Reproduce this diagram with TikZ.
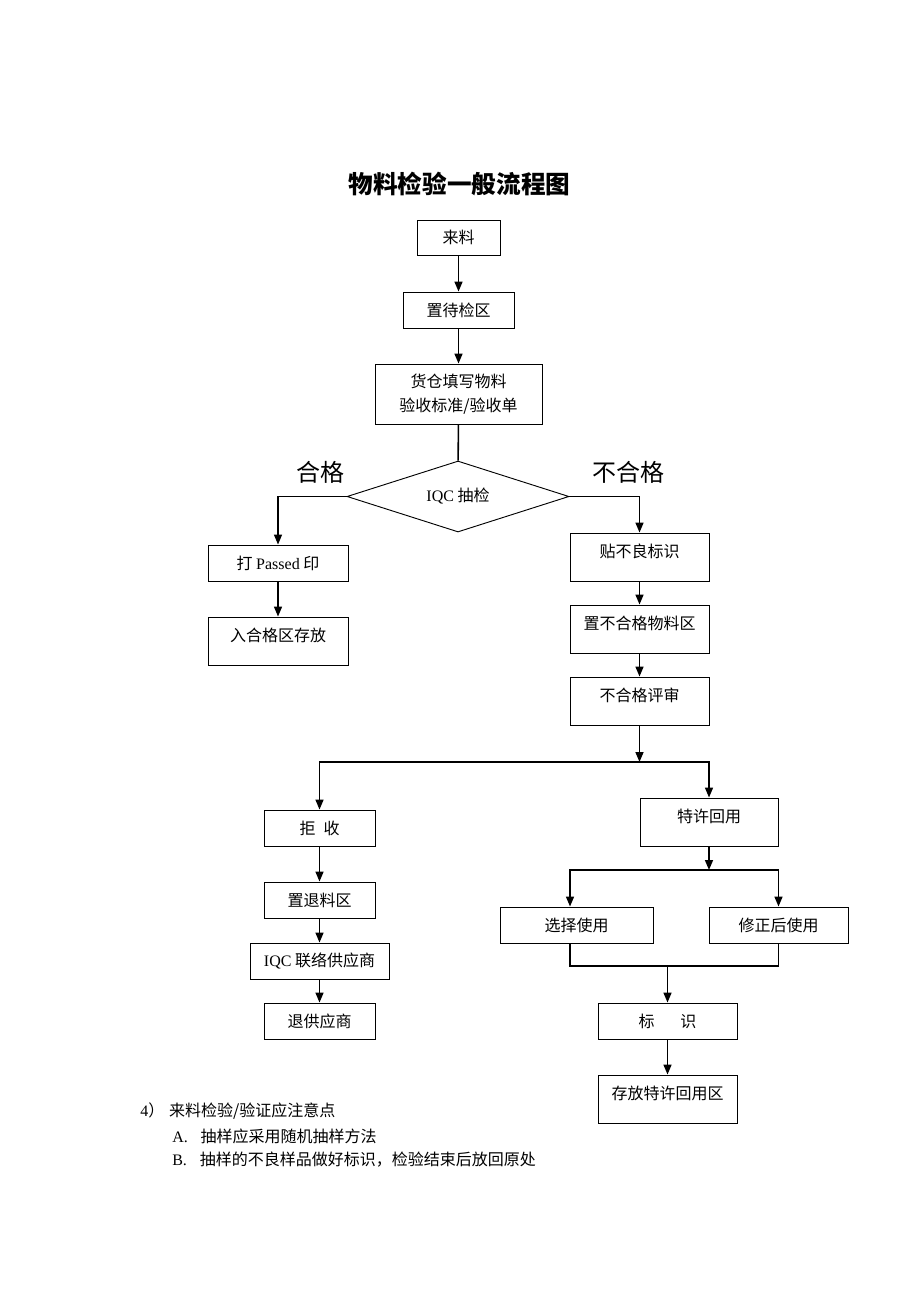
\documentclass[tikz,border=0pt]{standalone}
\usepackage{fontspec}
\setmainfont{Noto Sans CJK SC}
\newfontfamily\latinfont{Liberation Serif}
\newcommand{\eng}[1]{{\latinfont #1}}
\newcommand{\unitpx}{0.65pt}
\usetikzlibrary{shapes.geometric,arrows.meta,calc}

\tikzset{
  box/.style={draw, line width=0.6pt, inner sep=0pt, align=center, font=\fontsize{10.4}{16}\selectfont},
  bw/.style={minimum width=#1*\unitpx},
  bh/.style={minimum height=#1*\unitpx},
  toptext/.style={text height=8pt, text depth=8pt},
  decision/.style={diamond, draw, line width=0.6pt, aspect=3, inner sep=0pt,
    minimum width=222*\unitpx, minimum height=71*\unitpx, font=\fontsize{10.4}{16}\selectfont},
  branch/.style={inner sep=0pt, font=\fontsize{15.6}{18}\selectfont},
  note/.style={anchor=west, inner sep=0pt, font=\fontsize{10.4}{14}\selectfont},
  link/.style={line width=1pt},
  arr/.style={link, -{Triangle[length=6.5pt, width=5.2pt]}},
}

\begin{document}
\begin{tikzpicture}[x=\unitpx, y=-\unitpx]
    \path[fill=white, use as bounding box] (0,0) rectangle (920,1302);

    % Title
    \node[font=\bfseries\fontsize{16}{18}\selectfont] (title) at (459.5,184) {物料检验一般流程图};

    % Incoming
    \node[box, bw=83, bh=35] (lailiao) at (458.5,237.5) {来料};
    \node[box, bw=111, bh=36] (daijian) at (458.5,310) {置待检区};
    \node[box, bw=167, bh=60] (huocang) at (458.5,394) {货仓填写物料\\验收标准/验收单};
    \node[decision] (iqc) at (458,496.5) {\eng{IQC} 抽检};
    \node[branch] (hege) at (320,472) {合格};
    \node[branch] (buhege) at (628,472) {不合格};
    \draw[arr] (lailiao) -- (daijian);
    \draw[arr] (daijian) -- (huocang);
    \draw[link] (huocang) -- (iqc);

    % Passed
    \node[box, bw=140, bh=36] (passed) at (278,563) {打 \eng{Passed} 印};
    \node[box, bw=140, bh=48, toptext] (store) at (278,641) {入合格区存放};
    \draw[arr] (iqc.west) -| (passed.north);
    \draw[arr] (passed) -- (store);

    % Failed
    \node[box, bw=139, bh=48, toptext] (tag) at (639.5,557) {贴不良标识};
    \node[box, bw=139, bh=48, toptext] (ngarea) at (639.5,629) {置不合格物料区};
    \node[box, bw=139, bh=48, toptext] (review) at (639.5,701) {不合格评审};
    \draw[arr] (iqc.east) -| (tag.north);
    \draw[arr] (tag) -- (ngarea);
    \draw[arr] (ngarea) -- (review);

    % Review result
    \coordinate (fork) at (639.5,762);
    \node[box, bw=111, bh=36] (reject) at (319.5,828) {拒\hspace{0.5em}收};
    \node[box, bw=138, bh=48, toptext] (concession) at (709,822) {特许回用};
    \draw[arr] (review) -- (fork);
    \draw[arr] (fork) -| (reject.north);
    \draw[arr] (fork) -| (concession.north);

    % Reject
    \node[box, bw=111, bh=36] (retarea) at (319.5,900) {置退料区};
    \node[box, bw=139, bh=36] (contact) at (319.5,961) {\eng{IQC} 联络供应商};
    \node[box, bw=111, bh=36] (retsupp) at (319.5,1021) {退供应商};
    \draw[arr] (reject) -- (retarea);
    \draw[arr] (retarea) -- (contact);
    \draw[arr] (contact) -- (retsupp);

    % Concession
    \coordinate (fork2) at (709,870);
    \node[box, bw=153, bh=36] (select) at (576.5,925) {选择使用};
    \node[box, bw=139, bh=36] (rework) at (778.5,925) {修正后使用};
    \draw[arr] (concession) -- (fork2);
    \draw[arr] (fork2) -| ($(select.north)+(-6.5,0)$);
    \draw[arr] (fork2) -| (rework.north);

    \coordinate (merge) at (667.5,966);
    \node[box, bw=139, bh=36] (mark) at (667.5,1021) {标\hspace{1.6em}识};
    \node[box, bw=139, bh=48, toptext] (castore) at (667.5,1099) {存放特许回用区};
    \draw[link] ($(select.south)+(-6.5,0)$) |- (merge) -| (rework.south);
    \draw[arr] (merge) -- (mark);
    \draw[arr] (mark) -- (castore);

    % Notes
    \node[note] (n4) at (140,1111) {\eng{4}）\hspace{0.3em}来料检验/验证应注意点};
    \node[note] (na) at (172,1136) {\eng{A.}\hspace{0.8em}抽样应采用随机抽样方法};
    \node[note] (nb) at (172,1160) {\eng{B.}\hspace{0.8em}抽样的不良样品做好标识，检验结束后放回原处};
\end{tikzpicture}
\end{document}
